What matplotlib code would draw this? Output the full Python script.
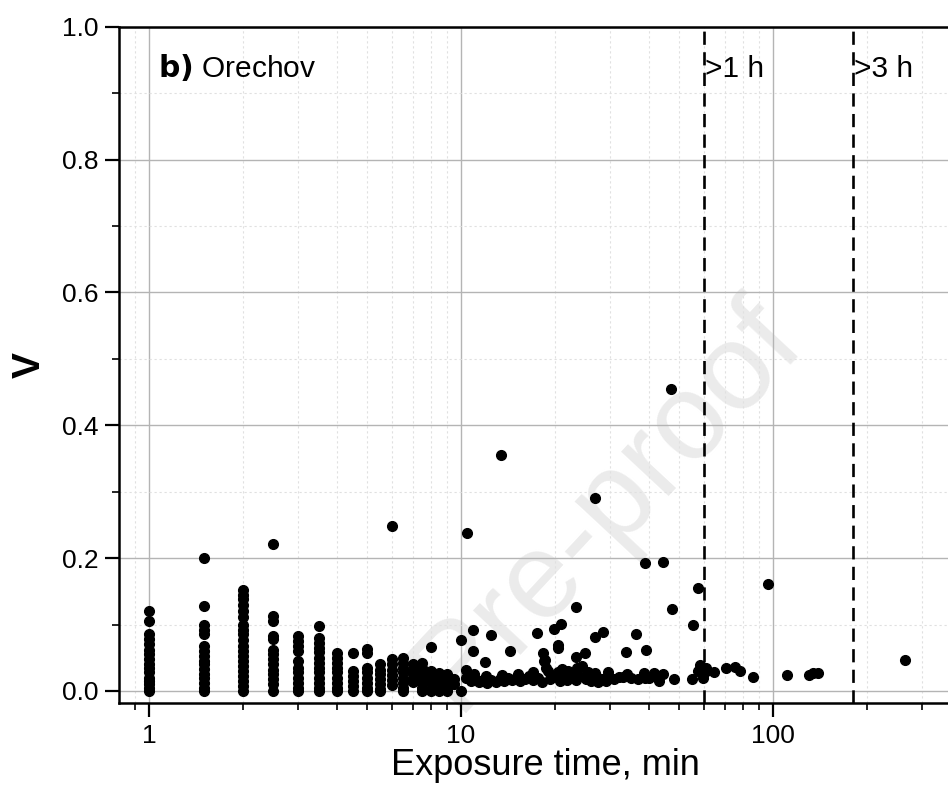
import numpy as np
import matplotlib
matplotlib.use("Agg")
import matplotlib.pyplot as plt
from matplotlib.ticker import LogLocator, FixedLocator, MultipleLocator, FuncFormatter

plt.rcParams['font.family'] = ['Liberation Sans', 'DejaVu Sans']

# columns of repeated exposure times (min) and their V values
col_x = [1, 1.5, 2, 2.5, 3, 3.5, 4, 4.5, 5, 5.5, 6, 6.5, 7, 7.5, 8, 8.5, 9, 9.5, 10]
col_v = [
    [0.12, 0.105, 0.085, 0.078, 0.07, 0.062, 0.055, 0.048, 0.04, 0.035, 0.028, 0.02, 0.015, 0.01, 0.005, 0.0],
    [0.2, 0.128, 0.1, 0.092, 0.085, 0.068, 0.06, 0.053, 0.045, 0.04, 0.033, 0.025, 0.02, 0.012, 0.005, 0.0],
    [0.152, 0.145, 0.138, 0.13, 0.12, 0.112, 0.1, 0.092, 0.085, 0.077, 0.068, 0.06, 0.052, 0.045, 0.038, 0.03, 0.022, 0.015, 0.008, 0.0],
    [0.222, 0.113, 0.105, 0.083, 0.078, 0.062, 0.055, 0.048, 0.04, 0.032, 0.025, 0.018, 0.01, 0.0],
    [0.082, 0.075, 0.068, 0.06, 0.045, 0.035, 0.028, 0.02, 0.012, 0.005, 0.0],
    [0.098, 0.08, 0.072, 0.065, 0.058, 0.05, 0.042, 0.035, 0.028, 0.02, 0.012, 0.005, 0.0],
    [0.057, 0.05, 0.042, 0.035, 0.028, 0.02, 0.012, 0.005, 0.0],
    [0.057, 0.03, 0.022, 0.015, 0.008, 0.0],
    [0.063, 0.057, 0.035, 0.028, 0.02, 0.012, 0.005, 0.0],
    [0.04, 0.032, 0.025, 0.018, 0.01, 0.003, 0.0],
    [0.248, 0.048, 0.04, 0.032, 0.024, 0.016, 0.009],
    [0.05, 0.042, 0.035, 0.028, 0.02, 0.012, 0.005, 0.0],
    [0.04, 0.032, 0.025, 0.018, 0.013],
    [0.042, 0.035, 0.028, 0.02, 0.012, 0.005, 0.0],
    [0.066, 0.03, 0.022, 0.015, 0.005, 0.0],
    [0.027, 0.02, 0.012, 0.0],
    [0.025, 0.015, 0.005, 0.0],
    [0.018, 0.01],
    [0.077, 0.0],
]

# dense low band between 10 and 60 min
band_x = [10.4, 10.4, 10.8, 11.1, 11.4, 11.8, 12.1, 12.5, 12.9, 13.3,
          13.7, 14.1, 14.6, 15.0, 15.5, 16.0, 16.5, 17.0, 17.6, 18.2,
          18.5, 18.7, 19.3, 19.9, 20.5, 20.8, 21.2, 21.9, 22.6, 23.3,
          24.0, 24.5, 25.2, 26.0, 26.8, 27.5, 28.3, 29.2, 30.0, 31.0,
          32.0, 33.0, 35.0, 36.8, 38.5, 40.0, 41.5, 43.0, 44.5, 48.3,
          55.0, 57.5, 58.5, 59.5, 60.5, 61.0,
          11.0, 12.0, 13.5, 15.2, 17.0, 19.0, 21.0, 22.0, 23.5, 25.5,
          27.0, 29.5, 34.0, 39.0, 42.0]
band_v = [0.032, 0.02, 0.015, 0.018, 0.013, 0.017, 0.012, 0.016, 0.014, 0.018,
          0.015, 0.02, 0.016, 0.019, 0.015, 0.018, 0.022, 0.016, 0.02, 0.014,
          0.045, 0.035, 0.018, 0.022, 0.028, 0.015, 0.02, 0.017, 0.025, 0.016,
          0.022, 0.038, 0.018, 0.015, 0.027, 0.013, 0.018, 0.015, 0.02, 0.018,
          0.021, 0.021, 0.02, 0.018, 0.027, 0.02, 0.027, 0.015, 0.026, 0.018,
          0.018, 0.03, 0.039, 0.02, 0.029, 0.034,
          0.025, 0.022, 0.024, 0.026, 0.028, 0.03, 0.033, 0.03, 0.035, 0.028,
          0.022, 0.028, 0.025, 0.02, 0.022]

# scattered points
out_x = [10.45, 10.9, 10.9, 11.9, 12.5, 13.4, 14.4, 17.5, 18.3, 18.6,
         19.9, 20.5, 20.5, 20.9, 23.4, 23.4, 24.9, 26.9, 26.9, 28.5,
         33.8, 36.3, 38.9, 39.2, 44.5, 47.0, 47.3, 55.3, 57.5, 64.5,
         70.7, 75.5, 78.5, 86.5, 96.0, 111.0, 130.0, 134.0, 139.0, 264.0]
out_v = [0.238, 0.092, 0.06, 0.044, 0.084, 0.355, 0.06, 0.087, 0.057, 0.047,
         0.093, 0.069, 0.064, 0.101, 0.126, 0.051, 0.057, 0.29, 0.081, 0.089,
         0.059, 0.086, 0.193, 0.062, 0.194, 0.455, 0.123, 0.1, 0.155, 0.029,
         0.034, 0.036, 0.03, 0.021, 0.161, 0.024, 0.024, 0.027, 0.027, 0.047]

limits_x = [60, 180]
limits_lbl = [">1 h", ">3 h"]

xs = [x for x, vs in zip(col_x, col_v) for _ in vs] + band_x + out_x
vs = [v for vals in col_v for v in vals] + band_v + out_v

fig = plt.figure(figsize=(9.48, 7.88), dpi=100)
ax = fig.add_axes([0.1255, 0.108, 0.92, 0.858])

# faint watermark
fig.text(0.64, 0.36, "Pre-proof", fontsize=88, color="#ebebeb",
         rotation=47, ha="center", va="center", zorder=0.5)
ax.set_zorder(1)
ax.patch.set_alpha(0)

ax.plot(xs, vs, "o", color="black", ms=7, zorder=3)

for xl, lbl in zip(limits_x, limits_lbl):
    ax.axvline(xl, color="black", lw=1.9, ls=(0, (5, 2.8)), zorder=4)
    ax.text(xl * 1.012, 0.925, lbl, fontsize=21.5, ha="left", va="baseline")

ax.text(1.07, 0.925, r"$\bf{b)}$ Orechov", fontsize=21.5, va="baseline")

ax.set_xscale("log")
ax.set_xlim(0.801, 500)
ax.set_ylim(-0.018, 1.0)

ax.xaxis.set_major_locator(FixedLocator([1, 10, 100]))
ax.xaxis.set_major_formatter(FuncFormatter(lambda v, p: f"{v:g}"))
ax.xaxis.set_minor_locator(LogLocator(base=10, subs=np.arange(2, 10), numticks=20))
ax.xaxis.set_minor_formatter(FuncFormatter(lambda v, p: ""))
ax.yaxis.set_major_locator(MultipleLocator(0.2))
ax.yaxis.set_minor_locator(MultipleLocator(0.1))
ax.yaxis.set_major_formatter(FuncFormatter(lambda v, p: f"{v:.1f}"))

ax.tick_params(which="major", direction="out", length=10, width=1.6, labelsize=19, pad=5)
ax.tick_params(which="minor", direction="out", length=5, width=1.2)

ax.grid(True, which="major", color="#b4b4b4", lw=1.0, zorder=0)
ax.grid(True, which="minor", color="#e0e0e0", lw=0.8, ls=(0, (2, 2.5)), zorder=0)
ax.set_axisbelow(True)

for s in ax.spines.values():
    s.set_linewidth(1.8)

ax.set_xlabel("Exposure time, min", fontsize=26, labelpad=0)
ax.xaxis.label.set_x(0.4885)
ax.set_ylabel("V", fontsize=28, fontweight="bold", labelpad=10)

fig.savefig("out.png", dpi=100)
